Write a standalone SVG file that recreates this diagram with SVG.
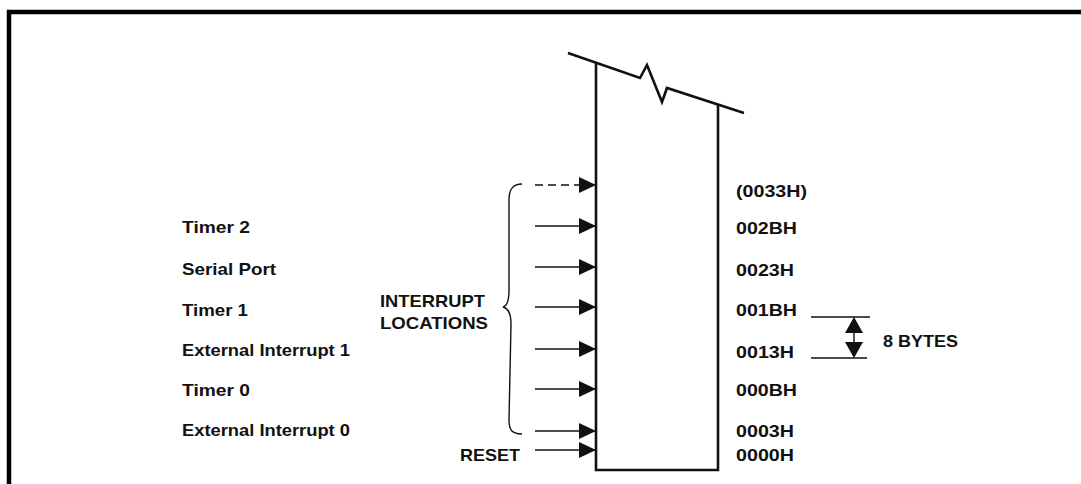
<svg xmlns="http://www.w3.org/2000/svg" width="1081" height="484" viewBox="0 0 1081 484">
<style>
text{font-family:"Liberation Sans",Arial,sans-serif;font-weight:bold;font-size:17px;fill:#111}
.ln{stroke:#111;stroke-width:1.4;fill:none}
.thick{stroke:#111;stroke-width:2.6;fill:none;stroke-linejoin:miter}
.head{fill:#111}
</style>
<defs>
<marker id="ah" markerWidth="18" markerHeight="16" refX="17" refY="8" orient="auto" markerUnits="userSpaceOnUse">
<path d="M0,0 L17,8 L0,16 Z" fill="#111"/>
</marker>
</defs>
<rect width="1081" height="484" fill="#fff"/>
<path d="M9,484 V12 H1081" fill="none" stroke="#000" stroke-width="4.5"/>

<g id="memory">
<path class="thick" d="M596,62 V470 H718 V105"/>
<path class="thick" d="M568,53 L640,78 L647,65 L662,102 L667,88 L744,113"/>
</g>

<g id="connectors">
<line class="ln" x1="535" y1="185" x2="596" y2="185" stroke-dasharray="8,5" marker-end="url(#ah)"/>
<line class="ln" x1="535" y1="226" x2="596" y2="226" marker-end="url(#ah)"/>
<line class="ln" x1="535" y1="267" x2="596" y2="267" marker-end="url(#ah)"/>
<line class="ln" x1="535" y1="307" x2="596" y2="307" marker-end="url(#ah)"/>
<line class="ln" x1="535" y1="349" x2="596" y2="349" marker-end="url(#ah)"/>
<line class="ln" x1="535" y1="389" x2="596" y2="389" marker-end="url(#ah)"/>
<line class="ln" x1="535" y1="431" x2="596" y2="431" marker-end="url(#ah)"/>
<line class="ln" x1="535" y1="450" x2="596" y2="450" marker-end="url(#ah)"/>
<path class="ln" stroke-width="1.1" d="M522,184 C512,184 509,190 509,200 L509,290 C509,302 507,306 503,307 C507,308 511,312 511,324 L509,420 C509,430 512,434 522,434"/>
</g>

<g id="brace-label">
<text x="380" y="307" textLength="105" lengthAdjust="spacingAndGlyphs">INTERRUPT</text>
<text x="380" y="329" textLength="108" lengthAdjust="spacingAndGlyphs">LOCATIONS</text>
</g>

<g id="sources">
<text x="182" y="233" textLength="68" lengthAdjust="spacingAndGlyphs">Timer 2</text>
<text x="182" y="275" textLength="94" lengthAdjust="spacingAndGlyphs">Serial Port</text>
<text x="182" y="316" textLength="66" lengthAdjust="spacingAndGlyphs">Timer 1</text>
<text x="182" y="356" textLength="168" lengthAdjust="spacingAndGlyphs">External Interrupt 1</text>
<text x="182" y="396" textLength="68" lengthAdjust="spacingAndGlyphs">Timer 0</text>
<text x="182" y="436" textLength="168" lengthAdjust="spacingAndGlyphs">External Interrupt 0</text>
<text x="460" y="461" textLength="60" lengthAdjust="spacingAndGlyphs">RESET</text>
</g>

<g id="addresses">
<text x="736" y="197" textLength="71" lengthAdjust="spacingAndGlyphs">(0033H)</text>
<text x="736" y="234" textLength="61" lengthAdjust="spacingAndGlyphs">002BH</text>
<text x="736" y="276" textLength="58" lengthAdjust="spacingAndGlyphs">0023H</text>
<text x="736" y="316" textLength="61" lengthAdjust="spacingAndGlyphs">001BH</text>
<text x="736" y="358" textLength="58" lengthAdjust="spacingAndGlyphs">0013H</text>
<text x="736" y="396" textLength="61" lengthAdjust="spacingAndGlyphs">000BH</text>
<text x="736" y="437" textLength="58" lengthAdjust="spacingAndGlyphs">0003H</text>
<text x="736" y="461" textLength="58" lengthAdjust="spacingAndGlyphs">0000H</text>
</g>

<g id="bytes-dimension">
<line class="ln" x1="811" y1="317" x2="870" y2="317"/>
<line class="ln" x1="811" y1="358" x2="867" y2="358"/>
<line class="ln" x1="854" y1="330" x2="854" y2="345"/>
<path class="head" d="M854,317 L863,333 L845,333 Z"/>
<path class="head" d="M854,358 L863,342 L845,342 Z"/>
<text x="883" y="347" textLength="75" lengthAdjust="spacingAndGlyphs">8 BYTES</text>
</g>
</svg>
